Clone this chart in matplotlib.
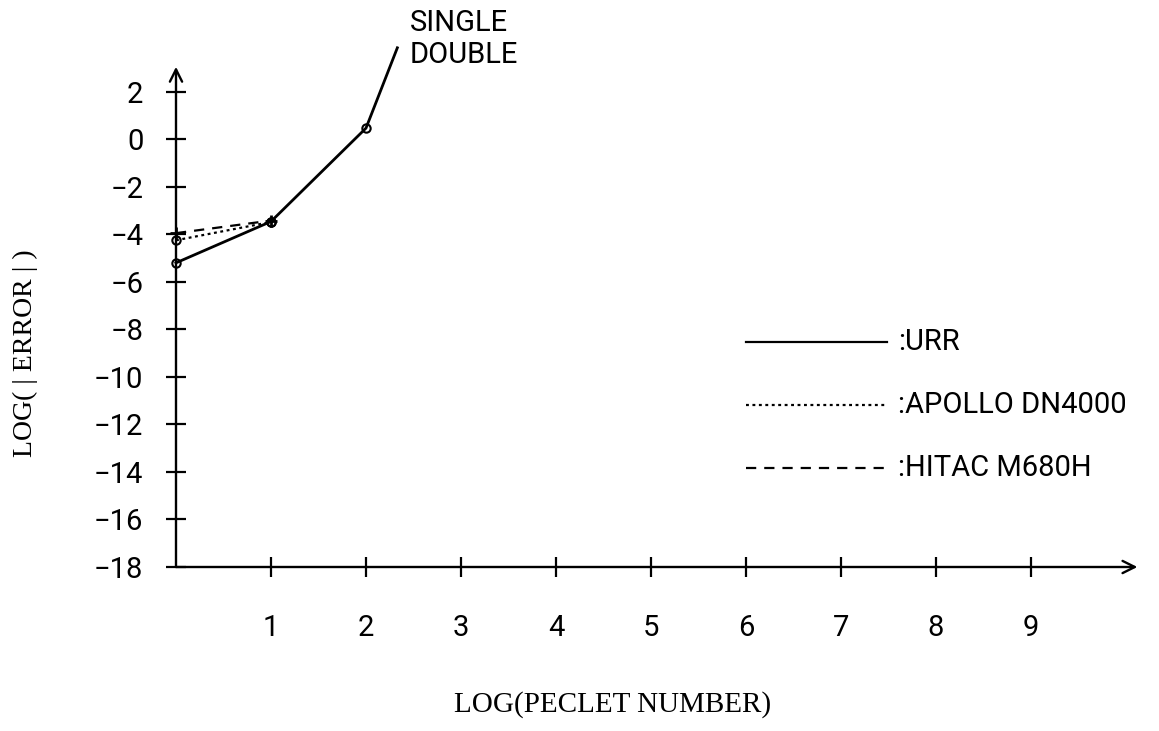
import matplotlib
matplotlib.use("Agg")
import matplotlib.pyplot as plt

# Data
urr_x = [0, 1, 2, 2.33]
urr_y = [-5.2, -3.46, 0.47, 3.85]
apollo_x = [0, 1]
apollo_y = [-4.25, -3.48]
hitac_x = [0, 1]
hitac_y = [-3.95, -3.42]

x_ticks = [1, 2, 3, 4, 5, 6, 7, 8, 9]
y_ticks = [2, 0, -2, -4, -6, -8, -10, -12, -14, -16, -18]

legend_names = [":URR", ":APOLLO DN4000", ":HITAC M680H"]
legend_styles = ["-", (0, (1.3, 1.6)), (0, (4.6, 3.6))]
legend_y = [-8.55, -11.2, -13.85]

tick_font = "Roboto"
label_font = "Liberation Serif"

fig = plt.figure(figsize=(11.59, 7.31), dpi=100)
ax = fig.add_axes([176 / 1159, 164 / 731, 950 / 1159, 499 / 731])
ax.set_xlim(0, 10)
ax.set_ylim(-18, 3)

for s in ax.spines.values():
    s.set_visible(False)

# axis lines with open arrow heads
arrow = dict(arrowstyle="->", lw=1.7, color="black", mutation_scale=22,
             shrinkA=0, shrinkB=0)
ax.annotate("", xy=(10.12, -18), xytext=(0, -18), arrowprops=arrow,
            annotation_clip=False)
ax.annotate("", xy=(0, 3.05), xytext=(0, -18), arrowprops=arrow,
            annotation_clip=False)

ax.set_xticks(x_ticks)
ax.set_yticks(y_ticks)
ax.tick_params(direction="inout", length=15, width=1.6, colors="black")
ax.tick_params(axis="x", pad=26, labelsize=21)
ax.tick_params(axis="y", pad=16, labelsize=21)
for lab in ax.get_xticklabels() + ax.get_yticklabels():
    lab.set_fontfamily(tick_font)

# series
ax.plot(urr_x, urr_y, "-", color="black", lw=2.0, marker="o", ms=6,
        mfc="none", mew=1.5, markevery=[0, 1, 2], clip_on=False)
ax.plot(apollo_x, apollo_y, color="black", lw=1.6, ls=legend_styles[1],
        marker="o", ms=6, mfc="none", mew=1.5, clip_on=False)
ax.plot(hitac_x, hitac_y, color="black", lw=1.6, ls=legend_styles[2],
        marker="+", ms=9, mew=2.0, clip_on=False)

# hand-drawn style legend
for name, style, yy in zip(legend_names, legend_styles, legend_y):
    ax.plot([6.0, 7.48], [yy, yy], color="black", lw=1.6, ls=style)
    ax.text(7.6, yy, name, fontsize=21, fontfamily=tick_font,
            va="center", ha="left")

ax.text(2.46, 4.9, "SINGLE", fontsize=21, fontfamily=tick_font,
        va="center", ha="left")
ax.text(2.46, 3.56, "DOUBLE", fontsize=21, fontfamily=tick_font,
        va="center", ha="left")

fig.text(613 / 1159, 1 - 705 / 731, "LOG(PECLET NUMBER)", fontsize=21,
         fontfamily=label_font, ha="center", va="center")
fig.text(25 / 1159, 1 - 353 / 731, "LOG( | ERROR | )", fontsize=20,
         fontfamily=label_font, ha="center", va="center", rotation=90)

fig.savefig("out.png", dpi=100, facecolor="white")
